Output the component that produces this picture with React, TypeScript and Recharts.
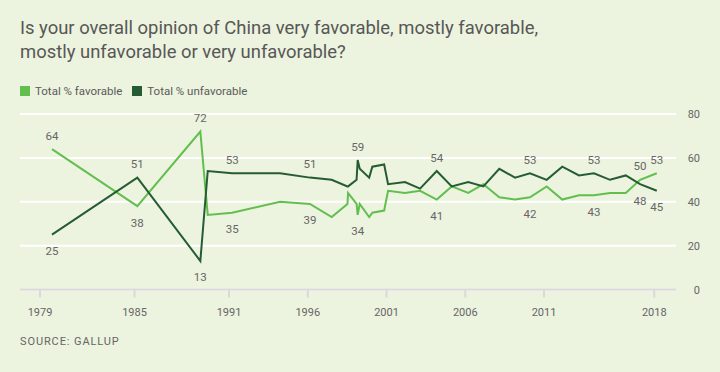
import React from 'react';
import { LineChart, Line, XAxis, YAxis, CartesianGrid } from 'recharts';

// survey dates (decimal years) and results
const years = [
  1979.76, 1985.18, 1989.18, 1989.65, 1991.2, 1994.24, 1996.14, 1997.52, 1998.52, 1998.56,
  1999.1, 1999.17, 1999.3, 1999.9, 2000.1, 2000.85, 2001.1, 2002.17, 2003.13, 2004.19,
  2005.14, 2006.19, 2007.15, 2008.16, 2009.16, 2010.11, 2011.17, 2012.16, 2013.22, 2014.17,
  2015.19, 2016.19, 2017.1, 2018.16,
];
const favorable = [
  64, 38, 72, 34, 35, 40, 39, 33, 39, 44, 39, 34, 39, 33, 35, 36, 45, 44, 45, 41, 47, 44, 48,
  42, 41, 42, 47, 41, 43, 43, 44, 44, 50, 53,
];
const unfavorable = [
  25, 51, 13, 54, 53, 53, 51, 50, 47, 47, 50, 59, 55, 51, 56, 57, 48, 49, 46, 54, 47, 49, 47,
  55, 51, 53, 50, 56, 52, 53, 50, 52, 48, 45,
];
const xTicks = [1979, 1985, 1991, 1996, 2001, 2006, 2011, 2018];
const yTicks = [0, 20, 40, 60, 80];

// which points carry a value label, and on which side of the line
const favLabelSide: Record<number, 'top' | 'bottom'> = {
  0: 'top', 1: 'bottom', 2: 'top', 4: 'bottom', 6: 'bottom', 11: 'bottom',
  19: 'bottom', 25: 'bottom', 29: 'bottom', 32: 'top', 33: 'top',
};
const unfavLabelSide: Record<number, 'top' | 'bottom'> = {
  0: 'bottom', 1: 'top', 2: 'bottom', 4: 'top', 6: 'top', 11: 'top',
  19: 'top', 25: 'top', 29: 'top', 32: 'bottom', 33: 'bottom',
};

const data = years.map((year, i) => ({
  year,
  fav: favorable[i],
  unfav: unfavorable[i],
}));

const FAV = '#62bf4f';
const UNFAV = '#265c33';
const BG = '#ecf3de';
const TEXT = '#666666';
const FONT = 'Roboto, sans-serif';

function makeLabelDot(sides: Record<number, 'top' | 'bottom'>, key: 'fav' | 'unfav') {
  return (p: any) => {
    const side = sides[p.index];
    if (!side) return <g key={`d-${key}-${p.index}`} />;
    const y = side === 'top' ? p.cy - 9.5 : p.cy + 20.5;
    return (
      <text
        key={`d-${key}-${p.index}`}
        x={p.cx}
        y={y}
        textAnchor="middle"
        fontSize={11.5}
        fontFamily={FONT}
        fill={TEXT}
      >
        {p.payload[key]}
      </text>
    );
  };
}

const XTick = ({ x, payload }: any) => (
  <text x={x} y={315.5} textAnchor="middle" fontSize={11} fontFamily={FONT} fill={TEXT}>
    {payload.value}
  </text>
);

const YTick = ({ y, payload }: any) => (
  <text x={700} y={y} dy={4} textAnchor="end" fontSize={11} fontFamily={FONT} fill={TEXT}>
    {payload.value}
  </text>
);

export default function App() {
  return (
    <div
      style={{
        position: 'absolute',
        top: 0,
        left: 0,
        width: 720,
        height: 372,
        background: BG,
        fontFamily: FONT,
        overflow: 'hidden',
      }}
    >
      <div
        style={{
          position: 'absolute',
          left: 20,
          top: 16,
          fontSize: 19,
          lineHeight: '24px',
          color: '#575757',
          whiteSpace: 'nowrap',
          transformOrigin: 'left top',
          transform: 'scaleX(0.97)',
        }}
      >
        Is your overall opinion of China very favorable, mostly favorable,
        <br />
        mostly unfavorable or very unfavorable?
      </div>

      <div
        style={{
          position: 'absolute',
          left: 20,
          top: 84,
          height: 14,
          display: 'flex',
          alignItems: 'center',
          fontSize: 11.5,
          color: '#5b5b5b',
        }}
      >
        <span style={{ width: 10, height: 10, background: FAV, marginRight: 5 }} />
        <span style={{ marginRight: 10 }}>Total % favorable</span>
        <span style={{ width: 10, height: 10, background: UNFAV, marginRight: 5 }} />
        <span>Total % unfavorable</span>
      </div>

      <div style={{ position: 'absolute', left: 0, top: 0 }}>
        <LineChart
          width={720}
          height={372}
          data={data}
          margin={{ top: 114, right: 0, left: 20, bottom: 52.5 }}
        >
          <CartesianGrid vertical={false} stroke="#ffffff" strokeWidth={2} />
          <XAxis
            dataKey="year"
            type="number"
            domain={[1977.73, 2019.38]}
            allowDataOverflow
            ticks={xTicks}
            height={30}
            axisLine={{ stroke: '#d9d9d9', strokeWidth: 2 }}
            tickLine={{ stroke: '#d9d9d9', strokeWidth: 2 }}
            tickSize={8}
            tick={<XTick />}
          />
          <YAxis
            orientation="right"
            width={44}
            domain={[0, 80]}
            ticks={yTicks}
            axisLine={false}
            tickLine={false}
            tick={<YTick />}
          />
          <Line
            dataKey="fav"
            stroke={FAV}
            strokeWidth={2}
            dot={makeLabelDot(favLabelSide, 'fav')}
            activeDot={false}
            isAnimationActive={false}
          />
          <Line
            dataKey="unfav"
            stroke={UNFAV}
            strokeWidth={2}
            dot={makeLabelDot(unfavLabelSide, 'unfav')}
            activeDot={false}
            isAnimationActive={false}
          />
        </LineChart>
      </div>

      <div
        style={{
          position: 'absolute',
          left: 20,
          top: 335,
          fontSize: 11,
          lineHeight: '14px',
          letterSpacing: 0.9,
          color: TEXT,
        }}
      >
        SOURCE: GALLUP
      </div>
    </div>
  );
}
